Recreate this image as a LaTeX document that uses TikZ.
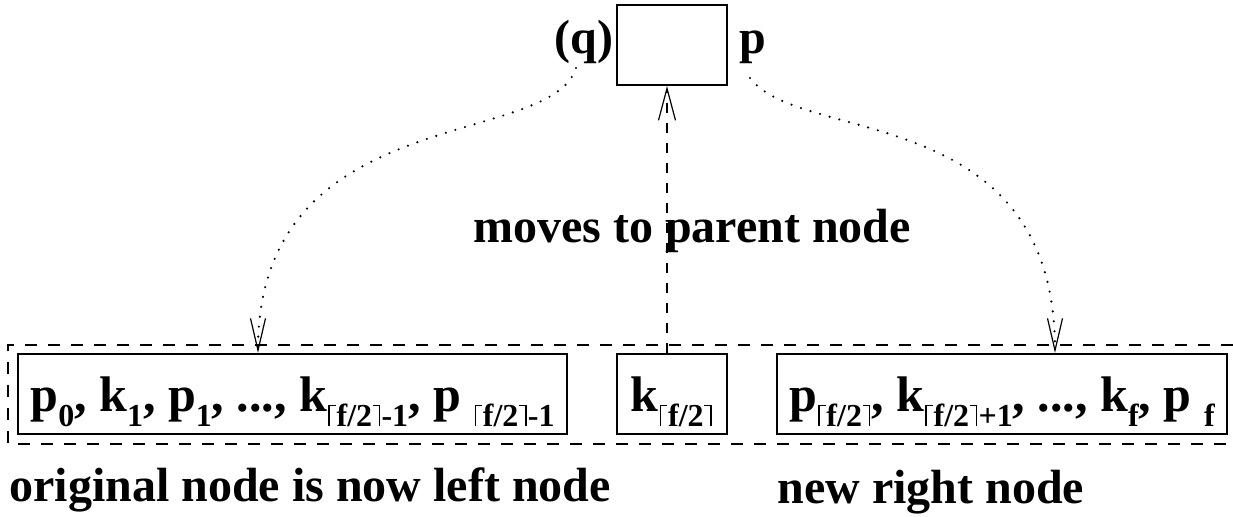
\documentclass[tikz,border=0pt]{standalone}
\usepackage{fontspec}
\setmainfont{Liberation Serif}
\usetikzlibrary{arrows.meta}
% lowered small index, and ceiling brackets made of rules
\newcommand{\lo}[1]{\raisebox{-7.5pt}{\fontsize{16pt}{18pt}\selectfont #1}}
\newcommand{\lc}{\kern0.6pt\rule{0.7pt}{10.5pt}\rule[9.8pt]{3pt}{0.7pt}\kern0.4pt}
\newcommand{\rc}{\kern0.4pt\rule[9.8pt]{3pt}{0.7pt}\rule{0.7pt}{10.5pt}\kern0.6pt}
\begin{document}
\begin{tikzpicture}[
    x=0.5pt, y=-0.5pt,
    keybox/.style={rectangle, draw, line width=1pt, inner xsep=0pt, inner ysep=0pt,
      minimum height=40pt, text height=28.5pt, text depth=11.5pt,
      font=\fontsize{25pt}{28pt}\selectfont\bfseries},
    lbl/.style={inner sep=0pt, font=\fontsize{24pt}{28pt}\selectfont\bfseries},
    frame/.style={line width=0.9pt, dash pattern=on 6pt off 5.5pt},
    up/.style={-{Straight Barb[length=16pt, width=8.5pt, line width=0.6pt]},
      line width=0.9pt, dash pattern=on 5pt off 5pt},
    ptr/.style={-{Straight Barb[length=16pt, width=7.5pt, line width=0.6pt]},
      line width=1.2pt, line cap=round, dash pattern=on 0pt off 5pt}
  ]
    \useasboundingbox (0,0) rectangle (1233,516);
    % parent node
    \node[keybox, minimum width=55pt] (par) at (672,45) {};
    \node[lbl, anchor=base east] (ql) at (614,53) {(q)};
    \node[lbl, anchor=base west] (pl) at (739,53) {p};
    % split node
    \draw[frame] (1233,345) -| (8,444) -- (1233,444);
    \node[keybox, minimum width=274.5pt] (left) at (292.5,394)
      {p\lo{0}, k\lo{1}, p\lo{1}, ..., k\lo{\lc f/2\rc-1}, p \lo{\lc f/2\rc-1}};
    \node[keybox, minimum width=55pt] (mid) at (672,394) {k\lo{\lc f/2\rc}};
    \node[keybox, minimum width=225pt] (right) at (1002,394)
      {p\lo{\lc f/2\rc}, k\lo{\lc f/2\rc+1}, ..., k\lo{f}, p \lo{f}};
    % pointers
    \coordinate (qs) at (576,68);
    \coordinate (ps) at (750,78);
    \draw[up] ([xshift=-2.5pt]mid.north) -- ([xshift=-2.5pt]par.south);
    \draw[ptr] (qs) .. controls (550,150) and (258,100) .. ([xshift=-17.25pt]left.north);
    \draw[ptr] (ps) .. controls (800,145) and (1055,100) .. ([xshift=26.5pt]right.north);
    \node[lbl, anchor=base] (moves) at (692,242) {moves to parent node};
    \node[lbl, anchor=base west] (orig) at (9,501) {original node is now left node};
    \node[lbl, anchor=base west] (newr) at (777,503) {new right node};
  \end{tikzpicture}
\end{document}
